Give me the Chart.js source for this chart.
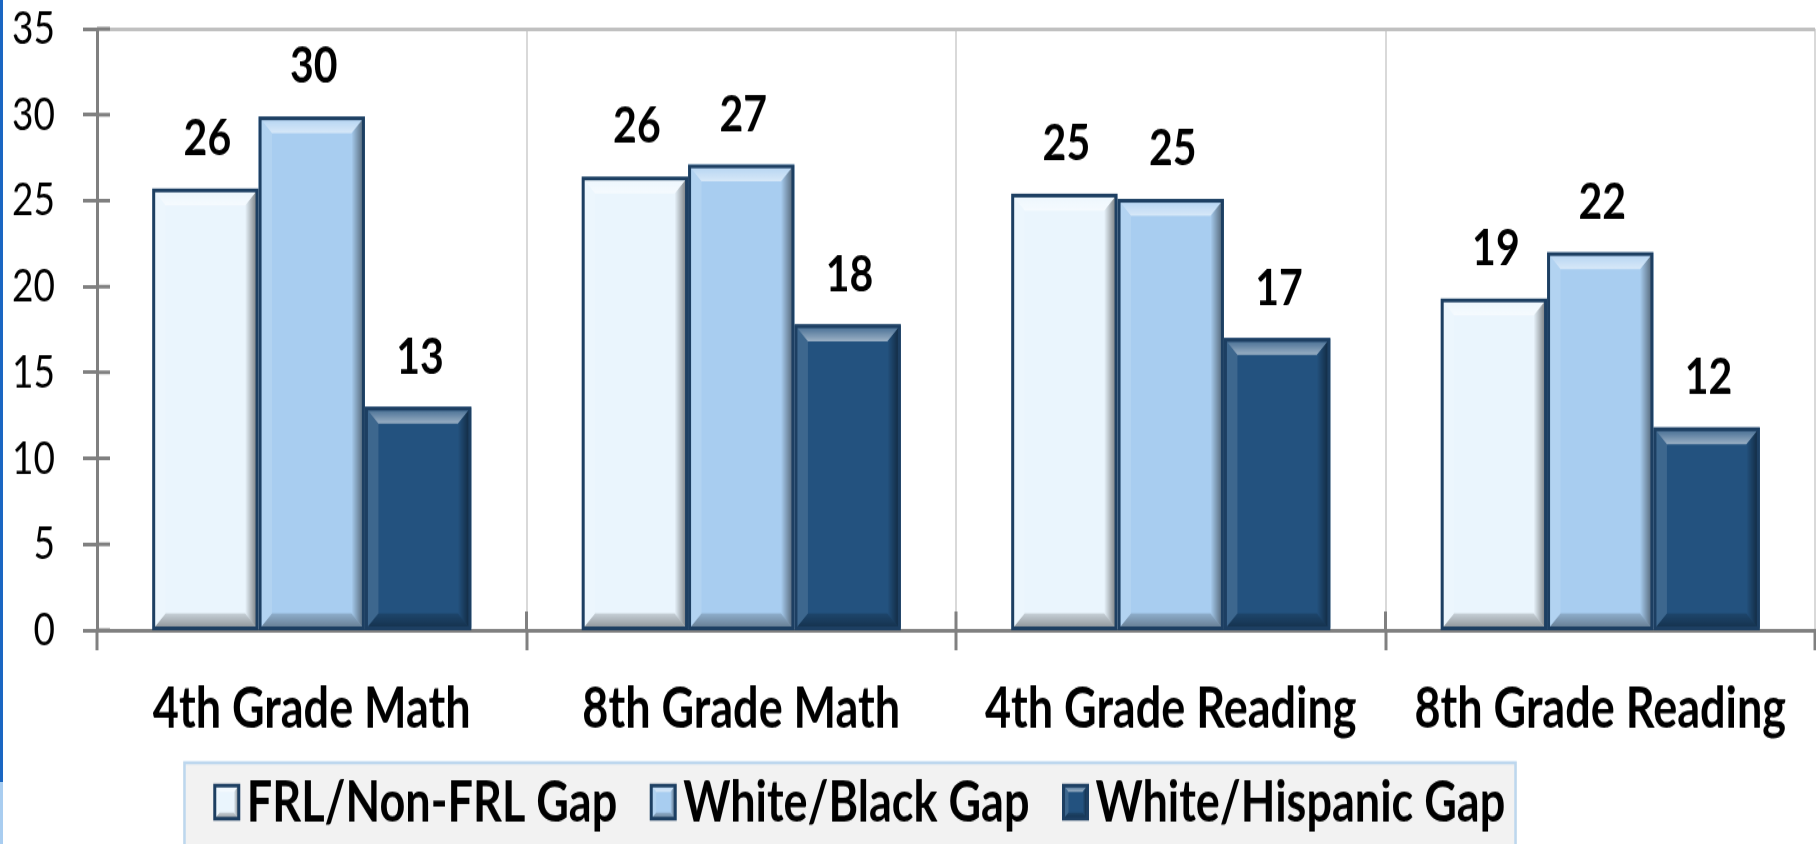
<!DOCTYPE html>
<html>
<head>
<meta charset="utf-8">
<script src="https://cdn.jsdelivr.net/npm/chart.js@4.4.1/dist/chart.umd.min.js"></script>
<style>
  html, body { margin: 0; padding: 0; background: #fff; overflow: hidden; }
  .wrap { position: relative; width: 1816px; height: 844px; overflow: hidden; }
  /* the original picture is stretched vertically (narrow, tall lettering) */
  #gapChart { display: block; transform: scaleY(1.2504); transform-origin: 0 0; }
  .wrap::before { content: ""; position: absolute; left: 0; top: 0; width: 3px; height: 782px; background: #1a66c2; }
  .wrap::after { content: ""; position: absolute; left: 0; top: 782px; width: 3px; height: 62px; background: #a9cdf0; }
</style>
</head>
<body>
<div class="wrap">
  <canvas id="gapChart" width="1816" height="675"></canvas>
</div>
<script>
const FONT = "Lato, 'Open Sans', sans-serif"

// data
const categories = ["4th Grade Math", "8th Grade Math", "4th Grade Reading", "8th Grade Reading"]
const seriesNames = ["FRL/Non-FRL Gap", "White/Black Gap", "White/Hispanic Gap"]
const frlGap = [25.7, 26.4, 25.4, 19.3]
const blackGap = [29.9, 27.1, 25.1, 22.0]
const hispanicGap = [13.0, 17.8, 17.0, 11.8]
const frlLabels = ["26", "26", "25", "19"]
const blackLabels = ["30", "27", "25", "22"]
const hispanicLabels = ["13", "18", "17", "12"]
const yTicks = [0, 5, 10, 15, 20, 25, 30, 35]

const fills = ["#eaf5fd", "#a8cdf0", "#23527f"]
const valueLabels = [frlLabels, blackLabels, hispanicLabels]

// bevelled look of the office-style bars
function bevel(ctx, x0, y0, x1, y1, s) {
    let g = ctx.createLinearGradient(x1 - s, 0, x1, 0)
    g.addColorStop(0, "rgba(0,0,0,0)")
    g.addColorStop(1, "rgba(0,0,0,0.5)")
    ctx.fillStyle = g
    ctx.beginPath()
    ctx.moveTo(x1, y0); ctx.lineTo(x1 - s, y0 + s); ctx.lineTo(x1 - s, y1 - s); ctx.lineTo(x1, y1)
    ctx.fill()

    g = ctx.createLinearGradient(0, y1 - s, 0, y1)
    g.addColorStop(0, "rgba(0,0,0,0.15)")
    g.addColorStop(1, "rgba(0,0,0,0.4)")
    ctx.fillStyle = g
    ctx.beginPath()
    ctx.moveTo(x0, y1); ctx.lineTo(x0 + s, y1 - s); ctx.lineTo(x1 - s, y1 - s); ctx.lineTo(x1, y1)
    ctx.fill()

    g = ctx.createLinearGradient(0, y0, 0, y0 + s)
    g.addColorStop(0, "rgba(255,255,255,0.15)")
    g.addColorStop(1, "rgba(255,255,255,0.55)")
    ctx.fillStyle = g
    ctx.beginPath()
    ctx.moveTo(x0, y0); ctx.lineTo(x0 + s, y0 + s); ctx.lineTo(x1 - s, y0 + s); ctx.lineTo(x1, y0)
    ctx.fill()

    ctx.fillStyle = "rgba(255,255,255,0.12)"
    ctx.beginPath()
    ctx.moveTo(x0, y0); ctx.lineTo(x0 + s, y0 + s); ctx.lineTo(x0 + s, y1 - s); ctx.lineTo(x0, y1)
    ctx.fill()
}

const barDecor = {
    id: "barDecor",
    afterDatasetsDraw(chart) {
        const ctx = chart.ctx
        ctx.save()
        chart.data.datasets.forEach((ds, i) => {
            chart.getDatasetMeta(i).data.forEach((bar, j) => {
                const p = bar.getProps(["x", "y", "base", "width"], true)
                const x0 = p.x - p.width / 2 + 1.5, x1 = p.x + p.width / 2 - 1.5
                bevel(ctx, x0, p.y + 1.5, x1, p.base, 12)
                ctx.strokeStyle = "#1d3f62"
                ctx.lineWidth = 3
                ctx.strokeRect(x0, p.y + 1.5, x1 - x0, p.base - p.y - 1.5)
            })
        })
        ctx.font = "bold 41px " + FONT
        ctx.textAlign = "center"
        ctx.textBaseline = "middle"
        ctx.fillStyle = "#000"
        chart.data.datasets.forEach((ds, i) => {
            chart.getDatasetMeta(i).data.forEach((bar, j) => {
                ctx.fillText(valueLabels[i][j], bar.x + 2, bar.y - 40)
            })
        })

        // tick marks crossing the axes, as in the original
        const ya = chart.scales.y, xa = chart.scales.x, area = chart.chartArea
        ctx.strokeStyle = "#808080"
        ctx.lineWidth = 3
        ctx.beginPath()
        yTicks.forEach(v => {
            const py = ya.getPixelForValue(v)
            ctx.moveTo(area.left, py); ctx.lineTo(area.left + 13, py)
        })
        const step = (area.right - area.left) / categories.length
        for (let k = 1; k < categories.length; k++) {
            const px = xa.getPixelForValue(k) - step / 2
            ctx.moveTo(px, area.bottom); ctx.lineTo(px, area.bottom - 15)
        }
        ctx.stroke()
        ctx.restore()
    }
}

const boxLegend = {
    id: "boxLegend",
    afterDraw(chart) {
        const ctx = chart.ctx
        ctx.save()
        ctx.fillStyle = "#f2f2f2"
        ctx.fillRect(183, 609, 1334, 80)
        ctx.strokeStyle = "#bdd7ee"
        ctx.lineWidth = 2.5
        ctx.strokeRect(184.5, 610, 1331, 80)

        ctx.font = "bold 45px " + FONT
        ctx.textBaseline = "middle"
        ctx.textAlign = "left"
        const bw = 24, bh = 26.5, gap = 8, spacing = 34
        const widths = chart.data.datasets.map(ds => ctx.measureText(ds.label).width)
        const total = widths.reduce((a, w) => a + bw + gap + w, 0) + spacing * (widths.length - 1)
        let x = 860 - total / 2
        const cy = 641.5
        chart.data.datasets.forEach((ds, i) => {
            ctx.fillStyle = ds.backgroundColor
            ctx.fillRect(x, cy - bh / 2, bw, bh)
            bevel(ctx, x, cy - bh / 2, x + bw, cy + bh / 2, 5)
            ctx.strokeStyle = "#1d3f62"
            ctx.lineWidth = 3
            ctx.strokeRect(x, cy - bh / 2, bw, bh)
            ctx.fillStyle = "#000"
            ctx.fillText(ds.label, x + bw + gap, cy + 1)
            x += bw + gap + widths[i] + spacing
        })
        ctx.restore()
    }
}

new Chart(document.getElementById("gapChart").getContext("2d"), {
    type: "bar",
    data: {
        labels: categories,
        datasets: [
            { label: seriesNames[0], data: frlGap, backgroundColor: fills[0] },
            { label: seriesNames[1], data: blackGap, backgroundColor: fills[1] },
            { label: seriesNames[2], data: hispanicGap, backgroundColor: fills[2] }
        ]
    },
    options: {
        responsive: false,
        animation: false,
        devicePixelRatio: 1,
        layout: { padding: { top: 23, left: 13, right: 1, bottom: 81 } },
        datasets: { bar: { barPercentage: 1, categoryPercentage: 0.743, borderWidth: 0 } },
        plugins: { legend: { display: false }, tooltip: { enabled: false }, title: { display: false } },
        scales: {
            x: {
                afterFit: axis => { axis.height = 90; axis.paddingLeft = 0; axis.paddingRight = 0 },
                grid: { offset: true, color: "#d9d9d9", lineWidth: 2, tickColor: "#808080", tickWidth: 3, tickLength: 16 },
                border: { color: "#808080", width: 3 },
                ticks: { color: "#000", padding: 20, maxRotation: 0, minRotation: 0, autoSkip: false,
                         font: { family: FONT, size: 45, weight: "bold" } }
            },
            y: {
                min: 0,
                max: 35,
                afterBuildTicks: axis => { axis.ticks = yTicks.map(v => ({ value: v })) },
                afterFit: axis => { axis.width = 84; axis.paddingTop = 0; axis.paddingBottom = 0 },
                grid: {
                    color: c => (c.tick && c.tick.value === 35 ? "#c0c0c0" : "rgba(0,0,0,0)"),
                    lineWidth: 3,
                    tickColor: "#808080",
                    tickWidth: 3,
                    tickLength: 14
                },
                border: { color: "#808080", width: 3 },
                ticks: { color: "#000", padding: 28, font: { family: FONT, size: 37 } }
            }
        }
    },
    plugins: [barDecor, boxLegend]
})
</script>
</body>
</html>
